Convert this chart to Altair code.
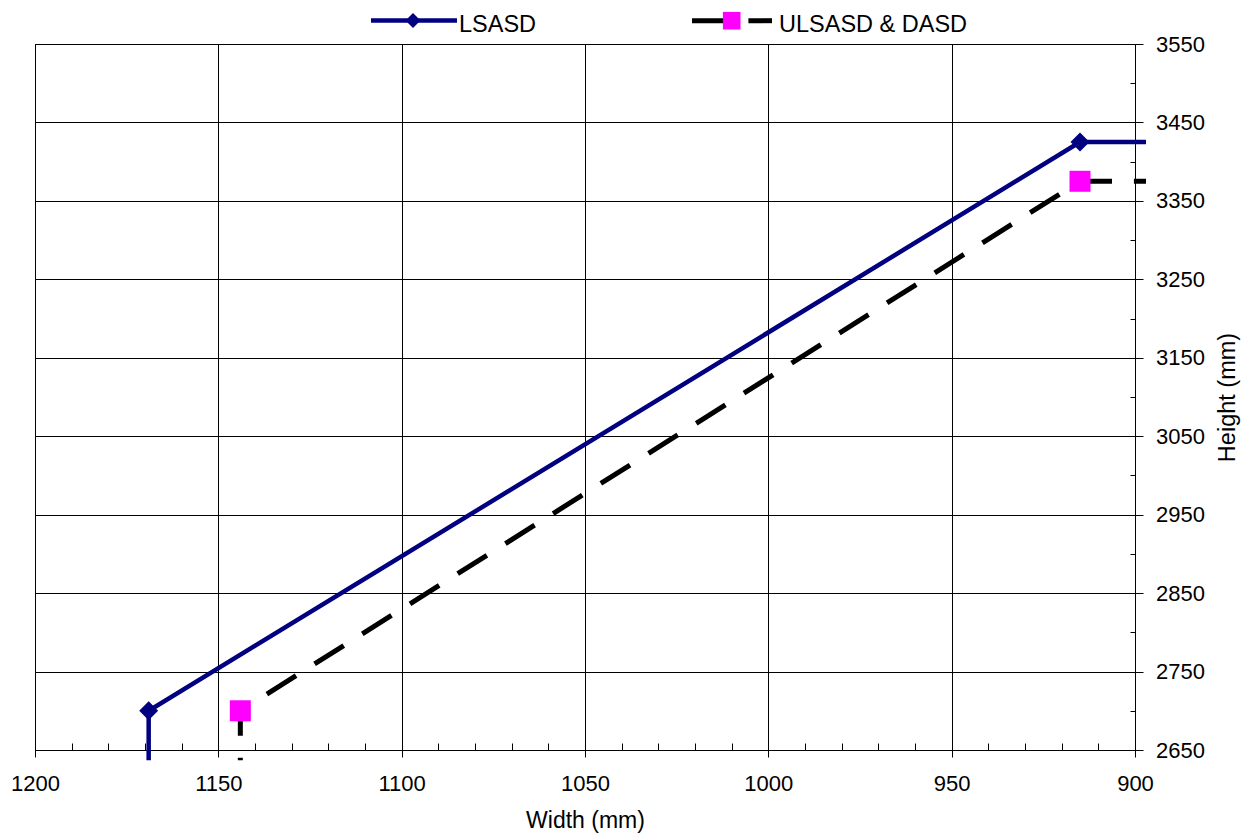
import altair as alt
import pandas as pd

# ---------------- data ----------------
series_names = ["LSASD", "ULSASD & DASD"]

lsasd_width = [1169, 1169, 915, 897]
lsasd_height = [2637, 2700, 3425, 3425]

ulsasd_width = [1144, 1144, 915, 897]
ulsasd_height = [2637, 2700, 3375, 3375]

marker_on = [False, True, True, False]

x_ticks = [1200, 1150, 1100, 1050, 1000, 950, 900]
x_minor = [1200, 1190, 1180, 1170, 1160, 1150, 1140, 1130, 1120, 1110, 1100,
           1090, 1080, 1070, 1060, 1050, 1040, 1030, 1020, 1010, 1000,
           990, 980, 970, 960, 950, 940, 930, 920, 910, 900]
y_ticks = [2650, 2750, 2850, 2950, 3050, 3150, 3250, 3350, 3450, 3550]
y_minor = [2700, 2800, 2900, 3000, 3100, 3200, 3300, 3400, 3500]

# ---------------- styling ----------------
FONT = "Liberation Sans"
NAVY = "#000080"
MAG = "#FF00FF"
W, H = 1100, 706

df1 = pd.DataFrame({"idx": list(range(len(lsasd_width))), "width": lsasd_width,
                    "height": lsasd_height, "marker": marker_on})
df2 = pd.DataFrame({"idx": list(range(len(ulsasd_width))), "width": ulsasd_width,
                    "height": ulsasd_height, "marker": marker_on})

xscale = alt.Scale(domain=[900, 1200], reverse=True, nice=False, zero=False)
yscale = alt.Scale(domain=[2650, 3550], nice=False, zero=False)

xaxis = alt.Axis(orient="bottom", values=x_ticks, format="d",
                 grid=True, gridColor="black", gridWidth=1, gridOpacity=1,
                 domainColor="black", domainWidth=1,
                 tickColor="black", tickSize=7, tickWidth=1,
                 labelFont=FONT, labelFontSize=22, labelColor="black",
                 labelPadding=16, labelFlush=False, labelOverlap=False,
                 title="Width (mm)", titleFont=FONT, titleFontSize=23,
                 titleFontWeight="normal", titleColor="black", titlePadding=15)

yaxis = alt.Axis(orient="right", values=y_ticks, format="d",
                 grid=True, gridColor="black", gridWidth=1, gridOpacity=1,
                 domainColor="black", domainWidth=1,
                 tickColor="black", tickSize=8, tickWidth=1,
                 labelFont=FONT, labelFontSize=22, labelColor="black",
                 labelPadding=12.5, labelFlush=False, labelOverlap=False,
                 title="Height (mm)", titleFont=FONT, titleFontSize=23.5,
                 titleFontWeight="normal", titleColor="black",
                 titleAngle=270, titleBaseline="top", titlePadding=11.5)

X = alt.X("width:Q", scale=xscale, axis=xaxis)
Y = alt.Y("height:Q", scale=yscale, axis=yaxis)

line1 = alt.Chart(df1).mark_line(color=NAVY, strokeWidth=4.5, clip=False).encode(
    x=X, y=Y, order=alt.Order("idx:Q"))
line2 = alt.Chart(df2).mark_line(color="black", strokeWidth=5,
                                 strokeDash=[34.5, 21.9], strokeDashOffset=32,
                                 clip=False).encode(
    x=X, y=Y, order=alt.Order("idx:Q"))
pts1 = alt.Chart(df1).transform_filter("datum.marker").mark_point(
    shape="diamond", filled=True, size=360, color=NAVY, opacity=1).encode(x=X, y=Y)
pts2 = alt.Chart(df2).transform_filter("datum.marker").mark_point(
    shape="square", filled=True, size=441, color=MAG, opacity=1).encode(x=X, y=Y)

# ---------------- legend (drawn above the plot) ----------------
one = alt.Data(values=[{"k": 1}])
leg_line1 = alt.Chart(one).mark_rule(color=NAVY, strokeWidth=4.5).encode(
    x=alt.value(336), x2=alt.value(422), y=alt.value(-23.5))
leg_pt1 = alt.Chart(one).mark_point(shape="diamond", filled=True, size=225,
                                    color=NAVY, opacity=1).encode(
    x=alt.value(378), y=alt.value(-23.5))
leg_txt1 = alt.Chart(one).mark_text(text=series_names[0], font=FONT, fontSize=23.5,
                                    align="left", baseline="alphabetic",
                                    color="black").encode(
    x=alt.value(424), y=alt.value(-12.3))
leg_line2 = alt.Chart(one).mark_rule(color="black", strokeWidth=5,
                                     strokeDash=[34.5, 21.9]).encode(
    x=alt.value(657), x2=alt.value(737), y=alt.value(-23.3))
leg_pt2 = alt.Chart(one).mark_point(shape="square", filled=True, size=310,
                                    color=MAG, opacity=1).encode(
    x=alt.value(696.7), y=alt.value(-23.3))
leg_txt2 = alt.Chart(one).mark_text(text=series_names[1], font=FONT, fontSize=23.5,
                                    align="left", baseline="alphabetic",
                                    color="black").encode(
    x=alt.value(744), y=alt.value(-12.3))

main = alt.layer(line1, line2, pts1, pts2,
                 leg_line1, leg_pt1, leg_txt1, leg_line2, leg_pt2, leg_txt2)

# ---------------- minor (inward) ticks ----------------
minor = alt.Chart(df1).mark_point(opacity=0).encode(
    x=alt.X("width:Q", scale=xscale,
            axis=alt.Axis(orient="bottom", values=x_minor, offset=-7,
                          tickSize=7, tickColor="black", tickWidth=1,
                          labels=False, domain=False, grid=False, title="")),
    y=alt.Y("height:Q", scale=yscale,
            axis=alt.Axis(orient="right", values=y_minor, offset=-5,
                          tickSize=5, tickColor="black", tickWidth=1,
                          labels=False, domain=False, grid=False, title="")),
)

chart = alt.layer(main, minor).resolve_scale(
    x="independent", y="independent"
).properties(
    width=W, height=H,
    padding={"left": 27, "top": 36, "right": 112, "bottom": 90},
    autosize=alt.AutoSizeParams(type="none"),
).configure_view(stroke="black", strokeWidth=1)

chart.save("out.html", embed_options={"renderer": "svg", "actions": False})
